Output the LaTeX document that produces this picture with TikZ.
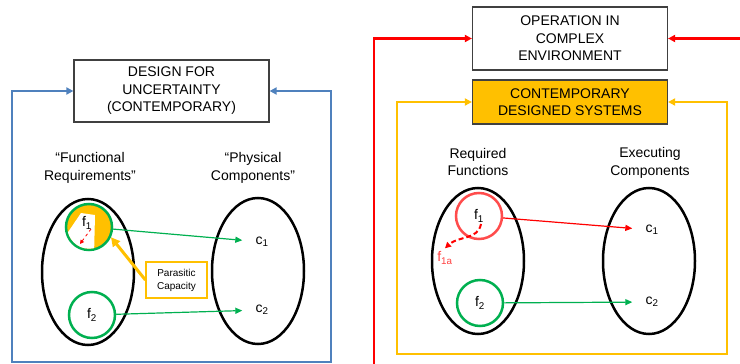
\documentclass[tikz,border=0pt]{standalone}
\usepackage{fontspec}
\setmainfont{Liberation Sans}
\usetikzlibrary{shapes.geometric,arrows.meta}
\definecolor{loopblue}{HTML}{4F81BD}
\definecolor{gold}{HTML}{FFC000}
\definecolor{fgreen}{HTML}{00B050}
\definecolor{fred}{HTML}{FF0000}
\tikzset{
  titlebox/.style={draw=black!75,line width=1.2pt,minimum width=195pt,align=center,inner sep=0pt},
  setoval/.style={draw,ellipse,line width=2.5pt,minimum width=92pt,minimum height=146pt,inner sep=0pt},
  fcirc/.style={circle,line width=2.5pt,minimum size=46pt,inner sep=0pt},
  loopline/.style={line width=2.5pt,-{Triangle[length=7pt,width=7pt]}},
  twoloop/.style={line width=2.5pt,{Triangle[length=7pt,width=7pt]}-{Triangle[length=7pt,width=7pt]}},
  thinarrow/.style={line width=1.2pt,-{Triangle[length=7pt,width=6pt]}},
  elem/.style={inner sep=13pt}
}
\begin{document}
\begin{tikzpicture}[x=1pt,y=-1pt,font=\fontsize{14}{17.5}\selectfont]
  \useasboundingbox (0,0) rectangle (740,364);

  \node[titlebox,minimum height=62pt] (dfu) at (171.5,91) {DESIGN FOR\\UNCERTAINTY\\(CONTEMPORARY)};
  \node[align=center] (funclab) at (90,168) {“Functional\\Requirements”};
  \node[align=center] (physlab) at (253,168) {“Physical\\Components”};
  \node[setoval] (fset) at (88,272) {};
  \node[setoval] (cset) at (258,271) {};
  \node[fcirc,draw=fgreen,fill=gold] (f1) at (89,227) {};
  \begin{scope}
    \clip (f1.center) circle (21.7pt);
    \fill[white] (81,213) -- (95,215) -- (94,256) -- (62,241) -- cycle;
  \end{scope}
  \node (f1lab) at (87,223) {f\textsubscript{1}};
  \coordinate (pa) at (91,229);
  \coordinate (pb) at (80,244);
  \draw[fred,dashed,line width=0.8pt,-{Triangle[length=4pt,width=4pt]}] (pa) -- (pb);
  \node[fcirc,draw=fgreen] (f2) at (92,315) {f\textsubscript{2}};
  \node[elem] (c1) at (262,242) {c\textsubscript{1}};
  \node[elem] (c2) at (262,310) {c\textsubscript{2}};
  \draw[thinarrow,fgreen] (f1) -- (c1);
  \draw[thinarrow,fgreen] (f2) -- (c2);
  \node[draw=gold,line width=1.2pt,fill=white,align=center,font=\fontsize{10}{13}\selectfont,
        minimum width=61pt,minimum height=36pt] (par) at (176.5,280) {Parasitic\\Capacity};
  \draw[gold,line width=3pt,-{Triangle[length=9pt,width=9pt]}] (par.west) -- (f1.-25);
  \coordinate (bsw) at (12,362);
  \coordinate (bse) at (331,362);
  \draw[twoloop,loopblue] (dfu.west) -| (bsw) -- (bse) |- (dfu.east);

  \node[titlebox,minimum height=63pt] (oce) at (570,38.5) {OPERATION IN\\COMPLEX\\ENVIRONMENT};
  \node[titlebox,minimum height=44pt,fill=gold] (cds) at (570,102) {CONTEMPORARY\\DESIGNED SYSTEMS};
  \coordinate (rsw) at (374,372);
  \coordinate (reast) at (748,38.5);
  \draw[loopline,fred] (rsw) |- (oce.west);
  \draw[loopline,fred] (reast) -- (oce.east);
  \coordinate (osw) at (397,354);
  \coordinate (ose) at (727,354);
  \draw[twoloop,gold] (cds.west) -| (osw) -- (ose) |- (cds.east);
  \node[align=center] (reqlab) at (478,162) {Required\\Functions};
  \node[align=center] (execlab) at (650,163) {Executing\\Components};
  \node[setoval] (rset) at (478,261) {};
  \node[setoval] (eset) at (649,261) {};
  \node[fcirc,draw=fred!70] (g1) at (479,216) {f\textsubscript{1}};
  \node[text=fred!75] (f1a) at (445,258) {f\textsubscript{1a}};
  \coordinate (gstart) at (481,224);
  \draw[fred,dash pattern=on 5pt off 3pt,line width=2pt,-{Triangle[length=6pt,width=6pt]}]
    (gstart) .. controls (478,240) and (458,236) .. (f1a.north);
  \node[fcirc,draw=fgreen] (g2) at (480,303) {f\textsubscript{2}};
  \node[elem] (rc1) at (652,230) {c\textsubscript{1}};
  \node[elem] (rc2) at (652,302) {c\textsubscript{2}};
  \draw[thinarrow,fred] (g1) -- (rc1);
  \draw[thinarrow,fgreen] (g2) -- (rc2);
\end{tikzpicture}
\end{document}
